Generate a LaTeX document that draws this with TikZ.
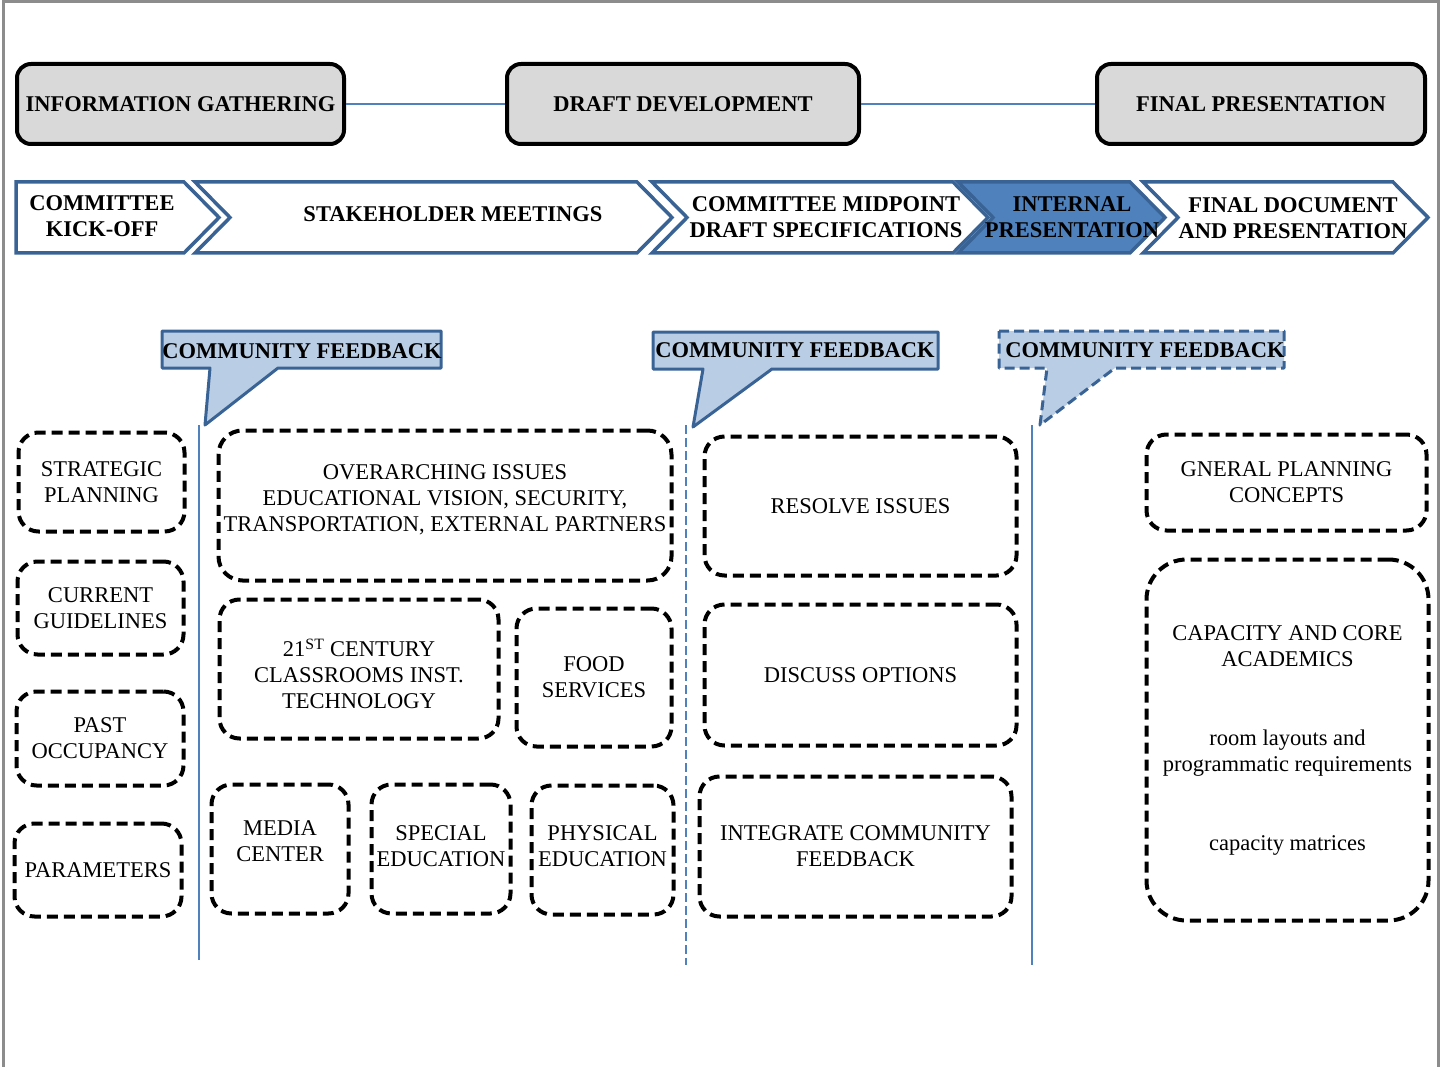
\documentclass[tikz,border=0pt]{standalone}
\usepackage{fontspec}
\setmainfont{Liberation Serif}
\definecolor{chevblue}{HTML}{3A6395}
\definecolor{accent}{HTML}{4F81BD}
\definecolor{calloutfill}{HTML}{B9CDE5}
\definecolor{phasegray}{HTML}{D9D9D9}
\definecolor{framegray}{HTML}{8C8C8C}

\begin{document}
\begin{tikzpicture}[x=1pt,y=-1pt,
	every node/.style={align=center, inner sep=0pt, font=\fontsize{22.5}{26}\selectfont},
	phase/.style={draw, line width=4pt, rounded corners=14pt, fill=phasegray, minimum height=80pt, font=\fontsize{22.5}{26}\selectfont\bfseries},
	chev/.style={draw=chevblue, line width=3.5pt, line join=miter},
	chevtext/.style={font=\fontsize{22.5}{26}\selectfont\bfseries},
	callout/.style={draw=chevblue, line width=3pt, fill=calloutfill, line join=round},
	task/.style={draw, line width=4pt, dash pattern=on 11pt off 6pt, rounded corners=20pt},
	divider/.style={draw=accent, line width=1.5pt},
	link/.style={draw=accent, line width=1.2pt}]
\useasboundingbox (0,0) rectangle (1440,1067);
\draw[framegray, line width=3pt] (3,1067) -- (3,2) -- (1438,2) -- (1438,1067);

% phases
\node[phase, minimum width=327pt] (gather) at (180.5,104) {INFORMATION GATHERING};
\node[phase, minimum width=352pt] (draft) at (683,104) {DRAFT DEVELOPMENT};
\node[phase, minimum width=328pt] (final) at (1261,104) {FINAL PRESENTATION};
\draw[link] (gather) -- (draft);
\draw[link] (draft) -- (final);

% process chevrons
\draw[chev] (16,182) -- (184,182) -- (219,217.5) -- (184,253) -- (16,253) -- cycle;
\draw[chev] (195,182) -- (637,182) -- (672,217.5) -- (637,253) -- (195,253) -- (230,217.5) -- cycle;
\draw[chev] (652,182) -- (953,182) -- (988,217.5) -- (953,253) -- (652,253) -- (687,217.5) -- cycle;
\draw[chev, fill=accent] (958,182) -- (1130,182) -- (1165,217.5) -- (1130,253) -- (958,253) -- (993,217.5) -- cycle;
\draw[chev] (1143,182) -- (1393,182) -- (1428,217.5) -- (1393,253) -- (1143,253) -- (1178,217.5) -- cycle;
\node[chevtext] (kickoff) at (102,216) {COMMITTEE\\KICK-OFF};
\node[chevtext] (stake) at (453,214) {STAKEHOLDER MEETINGS};
\node[chevtext] (midpoint) at (826,217.5) {COMMITTEE MIDPOINT\\DRAFT SPECIFICATIONS};
\node[chevtext] (internal) at (1072,217) {INTERNAL\\PRESENTATION};
\node[chevtext] (finaldoc) at (1293,218) {FINAL DOCUMENT\\AND PRESENTATION};

% community feedback callouts
\draw[callout] (162,331) -- (441,331) -- (441,368) -- (278,368) -- (205,425) -- (210,368) -- (162,368) -- cycle;
\draw[callout] (653,332) -- (938,332) -- (938,369) -- (772,369) -- (693,427) -- (703,369) -- (653,369) -- cycle;
\draw[callout, dash pattern=on 10pt off 5pt] (999,331) -- (1284,331) -- (1284,368) -- (1115,368) -- (1040,425) -- (1047,368) -- (999,368) -- cycle;
\node[chevtext] (voiceA) at (302,351) {COMMUNITY FEEDBACK};
\node[chevtext] (voiceB) at (795,350) {COMMUNITY FEEDBACK};
\node[chevtext] (voiceC) at (1145,350) {COMMUNITY FEEDBACK};

% column dividers
\draw[divider] (199,425) -- (199,960);
\draw[divider, dash pattern=on 9pt off 4pt] (686,425) -- (686,965);
\draw[divider] (1032,425) -- (1032,965);

% information gathering tasks
\node[task, minimum width=166pt, minimum height=99pt] (strategic) at (101.5,482) {STRATEGIC\\PLANNING};
\node[task, minimum width=166pt, minimum height=93pt] (guides) at (100.5,608) {CURRENT\\GUIDELINES};
\node[task, minimum width=167pt, minimum height=94pt] (occupancy) at (100,738.5) {PAST\\OCCUPANCY};
\node[task, minimum width=167pt, minimum height=93pt] (params) at (98,870) {PARAMETERS};

% stakeholder topics
\node[task, minimum width=453pt, minimum height=150pt, rounded corners=24pt, text depth=15pt] (overarch) at (445,505.5) {OVERARCHING ISSUES\\EDUCATIONAL VISION, SECURITY,\\TRANSPORTATION, EXTERNAL PARTNERS};
\node[task, minimum width=279pt, minimum height=139pt, text height=80pt] (classrooms) at (359,669) {21\textsuperscript{ST} CENTURY\\CLASSROOMS INST.\\TECHNOLOGY};
\node[task, minimum width=155pt, minimum height=138pt] (food) at (594,677.5) {FOOD\\SERVICES};
\node[task, minimum width=137pt, minimum height=129pt, text depth=16pt] (media) at (280,849) {MEDIA\\CENTER};
\node[task, minimum width=139pt, minimum height=129pt, text depth=6pt] (special) at (441,849) {SPECIAL\\EDUCATION};
\node[task, minimum width=142pt, minimum height=129pt, text depth=7pt] (physical) at (602.5,850) {PHYSICAL\\EDUCATION};

% midpoint work
\node[task, minimum width=312pt, minimum height=139pt] (resolve) at (860.5,506) {RESOLVE ISSUES};
\node[task, minimum width=312pt, minimum height=141pt] (options) at (860.5,675) {DISCUSS OPTIONS};
\node[task, minimum width=312pt, minimum height=140pt] (integrate) at (855.5,846.5) {INTEGRATE COMMUNITY\\FEEDBACK};

% final document contents
\node[task, minimum width=280pt, minimum height=96pt] (concepts) at (1286.5,482.5) {GNERAL PLANNING\\CONCEPTS};
\node[task, minimum width=282pt, minimum height=361pt, rounded corners=40pt] (capacity) at (1287.5,740) {CAPACITY AND CORE\\ACADEMICS\\[53pt]room layouts and\\programmatic requirements\\[53pt]capacity matrices};
\end{tikzpicture}
\end{document}
